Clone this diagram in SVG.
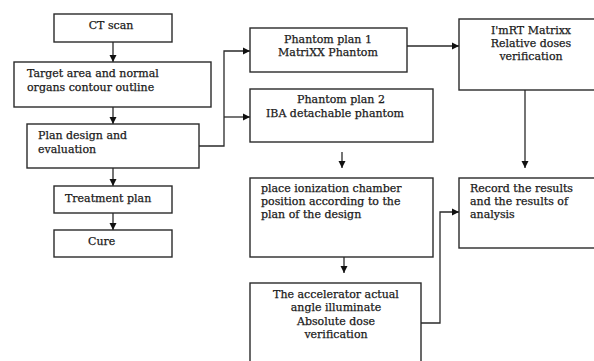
<svg xmlns="http://www.w3.org/2000/svg" width="594" height="361" viewBox="0 0 594 361">
<style>
.box{fill:#fff;stroke:#2a2a2a;stroke-width:1.4}
.t{font-family:"DejaVu Serif","Liberation Serif",serif;font-size:11px;fill:#1a1a1a;stroke:#1a1a1a;stroke-width:0.25}
.c{text-anchor:middle}
.ln{fill:none;stroke:#2a2a2a;stroke-width:1.3}
</style>
<defs>
<marker id="ah" markerWidth="8" markerHeight="8" refX="7" refY="4" orient="auto" markerUnits="userSpaceOnUse">
<path d="M0,0.5 L7,4 L0,7.5 Z" fill="#111"/>
</marker>
</defs>
<rect width="594" height="361" fill="#fff"/>
<g id="connectors">
<path class="ln" d="M113,42 V62" marker-end="url(#ah)"/>
<path class="ln" d="M113,107 V124" marker-end="url(#ah)"/>
<path class="ln" d="M113,168 V186" marker-end="url(#ah)"/>
<path class="ln" d="M113,213 V230" marker-end="url(#ah)"/>
<path class="ln" d="M199,146 H224 V51 H250" marker-end="url(#ah)"/>
<path class="ln" d="M224,117 H250" marker-end="url(#ah)"/>
<path class="ln" d="M407,46 H459" marker-end="url(#ah)"/>
<path class="ln" d="M525,90 V168" marker-end="url(#ah)"/>
<path class="ln" d="M342,152 V168" marker-end="url(#ah)"/>
<path class="ln" d="M344,257 V273" marker-end="url(#ah)"/>
<path class="ln" d="M421,323 H440 V212 H459" marker-end="url(#ah)"/>
</g>
<g id="ct">
<rect class="box" x="54" y="14" width="118" height="28"/>
<text class="t c" x="111" y="29">CT scan</text>
</g>
<g id="target">
<rect class="box" x="14" y="62" width="197" height="45"/>
<text class="t" x="27" y="77">Target area and normal</text>
<text class="t" x="27" y="91">organs contour outline</text>
</g>
<g id="plan">
<rect class="box" x="27" y="124" width="172" height="44"/>
<text class="t" x="38" y="139">Plan design and</text>
<text class="t" x="38" y="153">evaluation</text>
</g>
<g id="treatment">
<rect class="box" x="54" y="186" width="118" height="27"/>
<text class="t" x="65" y="202">Treatment plan</text>
</g>
<g id="cure">
<rect class="box" x="54" y="230" width="118" height="27"/>
<text class="t" x="88" y="245">Cure</text>
</g>
<g id="phantom1">
<rect class="box" x="250" y="28" width="157" height="44"/>
<text class="t c" x="328" y="43">Phantom plan 1</text>
<text class="t c" x="328" y="56">MatriXX Phantom</text>
</g>
<g id="phantom2">
<rect class="box" x="250" y="89" width="183" height="53"/>
<text class="t c" x="341" y="103">Phantom plan 2</text>
<text class="t c" x="335" y="117">IBA detachable phantom</text>
</g>
<g id="imrt">
<rect class="box" x="459" y="19" width="140" height="71"/>
<text class="t c" x="531" y="34">I'mRT Matrixx</text>
<text class="t c" x="531" y="47">Relative doses</text>
<text class="t c" x="531" y="60">verification</text>
</g>
<g id="place">
<rect class="box" x="250" y="178" width="183" height="79"/>
<text class="t" x="261" y="192">place ionization chamber</text>
<text class="t" x="261" y="205">position according to the</text>
<text class="t" x="261" y="218">plan of the design</text>
</g>
<g id="record">
<rect class="box" x="459" y="178" width="140" height="70"/>
<text class="t" x="470" y="192">Record the results</text>
<text class="t" x="470" y="205">and the results of</text>
<text class="t" x="470" y="218">analysis</text>
</g>
<g id="accel">
<rect class="box" x="250" y="283" width="171" height="90"/>
<text class="t c" x="336" y="298">The accelerator actual</text>
<text class="t c" x="336" y="311">angle illuminate</text>
<text class="t c" x="336" y="325">Absolute dose</text>
<text class="t c" x="336" y="338">verification</text>
</g>
</svg>
